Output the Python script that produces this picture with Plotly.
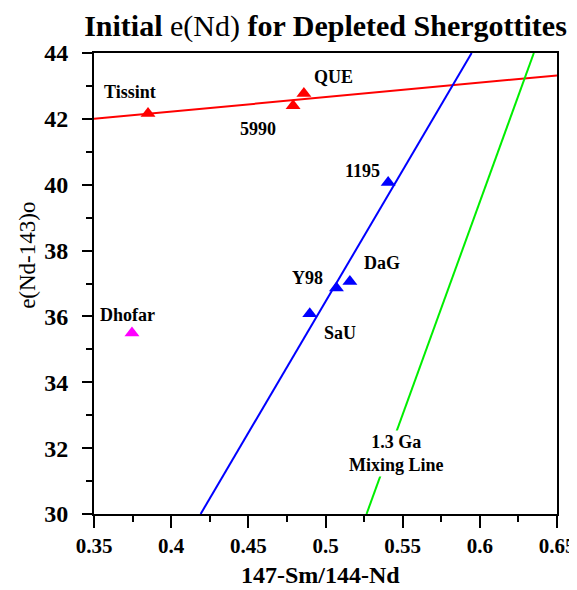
import plotly.graph_objects as go

# Data
names = ["Tissint", "5990", "QUE", "1195", "DaG", "Y98", "SaU", "Dhofar"]
sm_nd = [0.385, 0.479, 0.486, 0.5406, 0.5158, 0.5071, 0.4898, 0.3746]
e_nd = [42.16, 42.40, 42.77, 40.07, 37.06, 36.86, 36.08, 35.50]
colors = ["red", "red", "red", "blue", "blue", "blue", "blue", "magenta"]

red_line_x = [0.35, 0.65]
red_line_y = [42.0, 43.32]
blue_line_x = [0.4191, 0.5947]
blue_line_y = [30.0, 44.0]
green_line_x = [0.5266, 0.635]
green_line_y = [30.0, 44.0]

x_ticks = [0.35, 0.4, 0.45, 0.5, 0.55, 0.6, 0.65]
y_ticks = [30, 32, 34, 36, 38, 40, 42, 44]

# label offsets in pixels (ax, ay) relative to each point
label_offsets = {
    "Tissint": (-18, -22), "5990": (-35, 23), "QUE": (30, -17), "1195": (-26, -11),
    "DaG": (32, -19), "Y98": (-29, -10), "SaU": (30, 19), "Dhofar": (-4, -18),
}

FONT = "Liberation Serif, Times New Roman, serif"

def b(s):
    return f"<b>{s}</b>"

fig = go.Figure()
for lx, ly, c in [(red_line_x, red_line_y, "#ff0000"), (blue_line_x, blue_line_y, "#0000ff"),
                  (green_line_x, green_line_y, "#00ee00")]:
    fig.add_trace(go.Scatter(x=lx, y=ly, mode="lines", line=dict(color=c, width=2),
                             showlegend=False, hoverinfo="skip"))

fig.add_trace(go.Scatter(x=sm_nd, y=e_nd, mode="markers",
                         marker=dict(symbol="triangle-up", size=13, color=colors, line=dict(width=0)),
                         showlegend=False, text=names))

for n, x, y in zip(names, sm_nd, e_nd):
    ax, ay = label_offsets[n]
    fig.add_annotation(x=x, y=y, text=b(n), showarrow=True, arrowcolor="rgba(0,0,0,0)",
                       ax=ax, ay=ay, font=dict(family=FONT, size=18, color="black"))

fig.add_annotation(x=0.546, y=31.83, text=b("1.3 Ga<br>Mixing Line"), showarrow=False,
                   bgcolor="white", font=dict(family=FONT, size=18, color="black"))

# axis titles
fig.add_annotation(xref="paper", yref="paper", x=0.489, y=0, yshift=-61, xanchor="center",
                   yanchor="middle", showarrow=False, text=b("147-Sm/144-Nd"),
                   font=dict(family=FONT, size=24, color="black"))
fig.add_annotation(xref="paper", yref="paper", x=-0.1425, y=0.56, xanchor="center",
                   yanchor="middle", showarrow=False, text="e(Nd-143)o", textangle=-90,
                   font=dict(family=FONT, size=23, color="black"))

axis_common = dict(showgrid=False, zeroline=False, showline=True, linecolor="black", linewidth=2,
                   mirror=True, ticks="outside", tickcolor="black", tickwidth=1.5, automargin=False,
                   ticklabeloverflow="allow")

fig.update_xaxes(range=[0.35, 0.65], tickvals=x_ticks, ticktext=[b(f"{v:g}") for v in x_ticks],
                 ticklen=12, tickfont=dict(family=FONT, size=21, color="black"),
                 minor=dict(ticks="outside", dtick=0.025, tick0=0.35, ticklen=6, tickcolor="black", tickwidth=1.5),
                 **axis_common)
fig.update_yaxes(range=[30, 44], tickvals=y_ticks, ticktext=[b(str(v)) for v in y_ticks], ticklen=10,
                 ticklabelstandoff=9, tickfont=dict(family=FONT, size=24, color="black"),
                 minor=dict(ticks="outside", dtick=1, tick0=30, ticklen=6, tickcolor="black", tickwidth=1.5),
                 **axis_common)

fig.update_layout(
    width=569, height=582,
    margin=dict(l=86, r=20, t=45, b=76),
    paper_bgcolor="white", plot_bgcolor="white",
    title=dict(text="<b>Initial </b>e(Nd)<b> for Depleted Shergottites</b>", x=0.558, xanchor="center",
               y=1 - 17 / 582, yanchor="middle",
               font=dict(family=FONT, size=30, color="black")),
)

fig.write_html("out.html")
